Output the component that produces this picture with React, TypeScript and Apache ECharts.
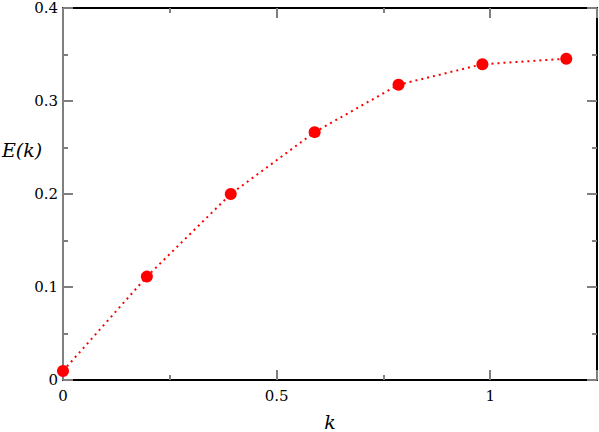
import React, { useEffect, useRef } from "react";
import * as echarts from "echarts";

const kValues = [0, 0.19635, 0.3927, 0.58905, 0.7854, 0.98175, 1.1781];
const eValues = [0.0097, 0.1112, 0.2, 0.2665, 0.3175, 0.3395, 0.3455];
const xTickLabels = ["0", "0.5", "1"];
const yTickLabels = ["0", "0.1", "0.2", "0.3", "0.4"];

const FONT = "DejaVu Serif";

export default function App() {
  const ref = useRef<HTMLDivElement>(null);
  useEffect(() => {
    if (!ref.current) return;
    const chart = echarts.init(ref.current, null, { renderer: "svg" });
    const fmtX = (v: number) => {
      const s = String(Math.round(v * 100) / 100);
      return xTickLabels.includes(s) ? s : "";
    };
    const fmtY = (v: number) => {
      const s = String(Math.round(v * 100) / 100);
      return yTickLabels.includes(s) ? s : "";
    };
    const tickCommon = { inside: true, length: 10, lineStyle: { color: "#7f7f7f", width: 2 } };
    const minorCommon = { show: true, splitNumber: 2, length: 5, lineStyle: { color: "#7f7f7f", width: 2 } };
    chart.setOption({
      animation: false,
      backgroundColor: "#ffffff",
      textStyle: { fontFamily: FONT },
      grid: { left: 63, right: 2, top: 8, bottom: 52, containLabel: false, outerBoundsMode: "none" },
      xAxis: [
        {
          type: "value",
          min: 0,
          max: 1.25,
          interval: 0.5,
          position: "bottom",
          name: "k",
          nameLocation: "middle",
          nameGap: 32,
          nameTextStyle: { fontFamily: FONT, fontStyle: "italic", fontSize: 19, color: "#000" },
          axisLine: { show: true, lineStyle: { color: "#000", width: 2 } },
          axisTick: tickCommon,
          minorTick: minorCommon,
          splitLine: { show: false },
          axisLabel: { formatter: fmtX, fontFamily: FONT, fontSize: 15, color: "#000", margin: 8 },
        },
        {
          type: "value",
          min: 0,
          max: 1.25,
          interval: 0.5,
          position: "top",
          axisLine: { show: true, onZero: false, lineStyle: { color: "#000", width: 2 } },
          axisTick: tickCommon,
          minorTick: minorCommon,
          splitLine: { show: false },
          axisLabel: { show: false },
        },
      ],
      yAxis: [
        {
          type: "value",
          min: 0,
          max: 0.4,
          interval: 0.1,
          position: "left",
          axisLine: { show: true, onZero: false, lineStyle: { color: "#7f7f7f", width: 2 } },
          axisTick: tickCommon,
          minorTick: minorCommon,
          splitLine: { show: false },
          axisLabel: { formatter: fmtY, fontFamily: FONT, fontSize: 15, color: "#000", margin: 5 },
        },
        {
          type: "value",
          min: 0,
          max: 0.4,
          interval: 0.1,
          position: "right",
          axisLine: { show: true, onZero: false, lineStyle: { color: "#000", width: 2 } },
          axisTick: tickCommon,
          minorTick: minorCommon,
          splitLine: { show: false },
          axisLabel: { show: false },
        },
      ],
      graphic: [
        {
          type: "text",
          left: 2,
          top: 140,
          style: { text: "E(k)", fontFamily: FONT, fontStyle: "italic", fontSize: 19, fill: "#000" },
        },
      ],
      series: [
        {
          type: "line",
          xAxisIndex: 0,
          yAxisIndex: 0,
          data: kValues.map((k, i) => [k, eValues[i]]),
          symbol: "circle",
          symbolSize: 12,
          itemStyle: { color: "#ff0000" },
          lineStyle: { color: "#ff0000", width: 2, type: [2, 4] },
          clip: false,
        },
      ],
    });
    return () => chart.dispose();
  }, []);
  return <div ref={ref} style={{ width: 599, height: 432, position: "absolute", left: 0, top: 0 }} />;
}
